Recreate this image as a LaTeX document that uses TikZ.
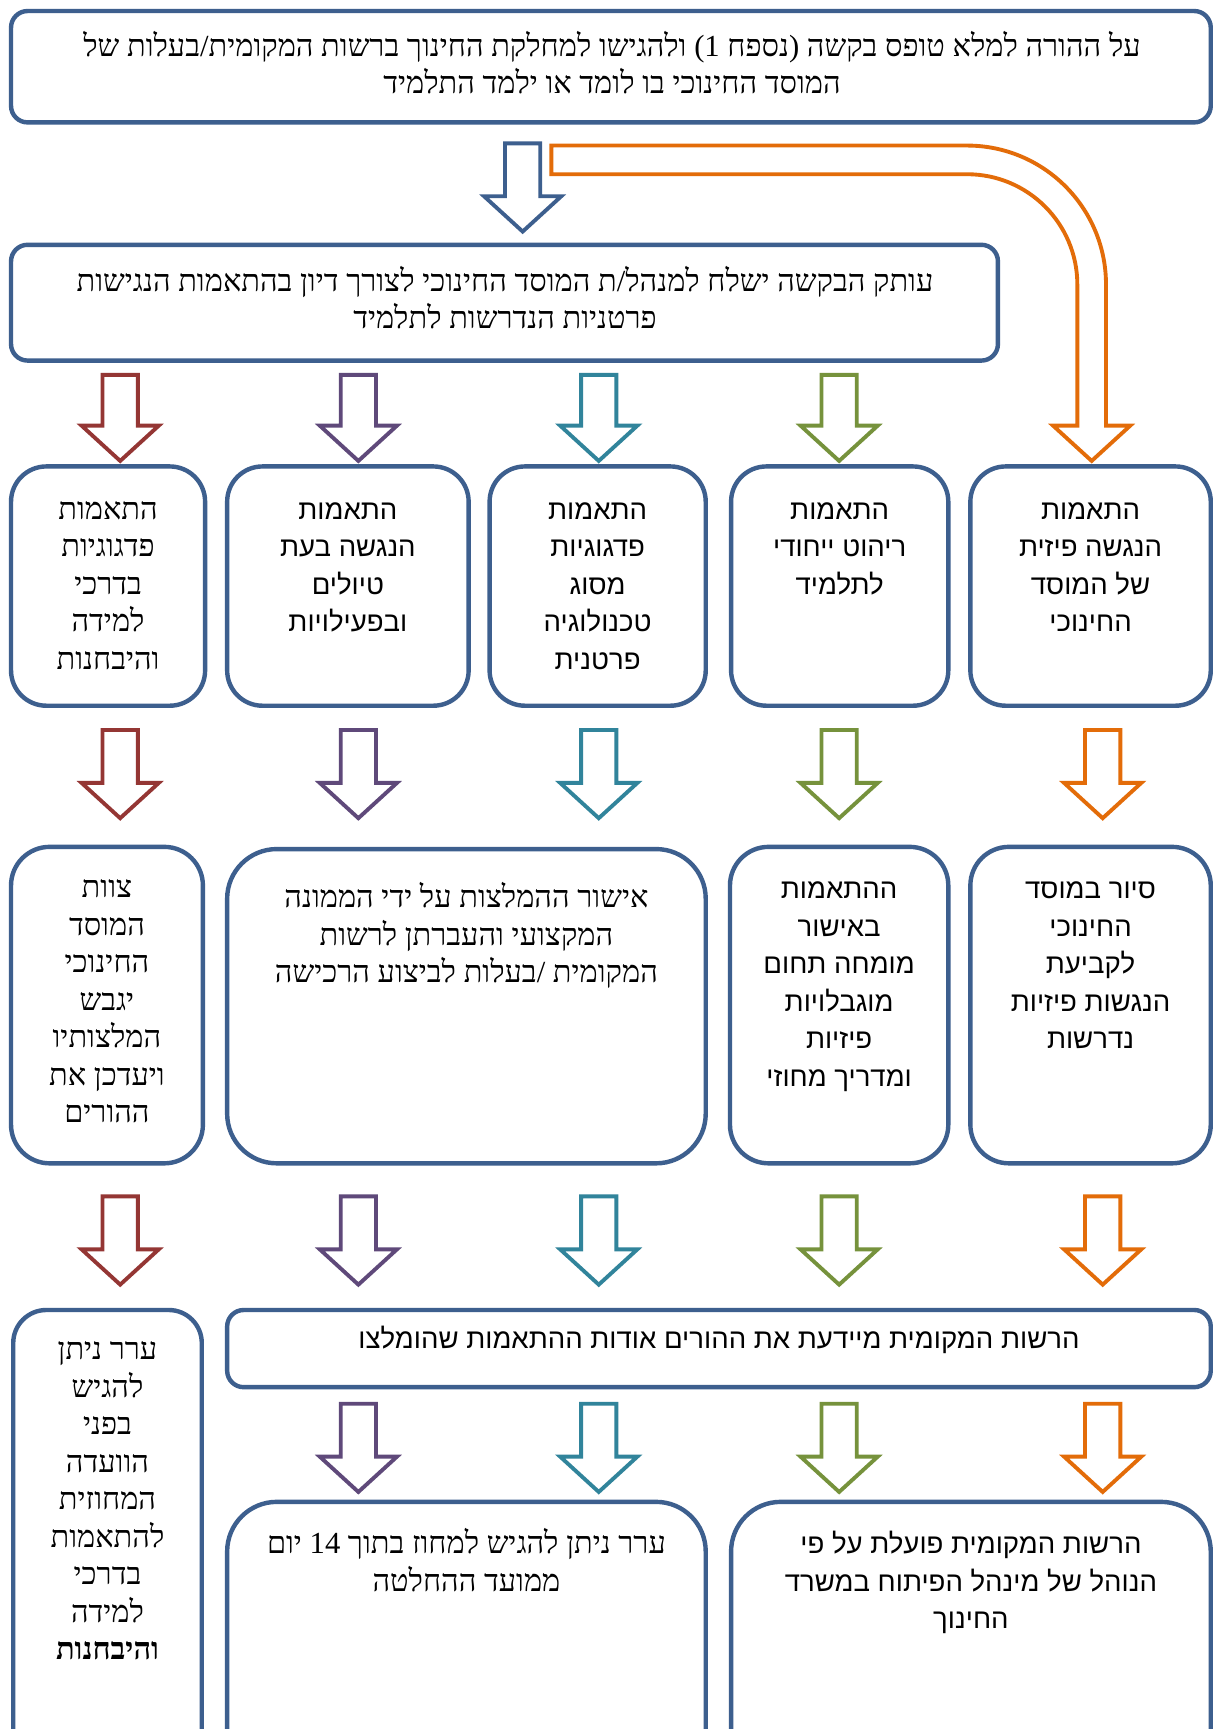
\documentclass[tikz,border=0pt]{standalone}
\usepackage{fontspec}
\setmainfont{Liberation Sans}
\newfontfamily\hsans[Script=Hebrew]{Liberation Sans}
\newfontfamily\hser[Script=Hebrew]{Liberation Serif}
\TeXXeTstate=1
\newcommand\hb[1]{\beginR\strut #1\endR}
\definecolor{boxblue}{HTML}{3D5F8E}
\definecolor{ared}{HTML}{943634}
\definecolor{apurple}{HTML}{5F497A}
\definecolor{ateal}{HTML}{31849B}
\definecolor{agreen}{HTML}{76923C}
\definecolor{aorange}{HTML}{E36C09}
\definecolor{ablue}{HTML}{3D5F8E}
\tikzset{
  box/.style={draw=boxblue, line width=4pt, rounded corners=#1, inner sep=0pt, fill=white},
  box/.default=15pt,
  txt/.style={anchor=north, inner sep=0pt, align=center, font=\hsans\fontsize{25}{34}\selectfont},
  stxt/.style={anchor=north, inner sep=0pt, align=center, font=\hser\fontsize{27.8}{34}\selectfont},
  blockarrow/.style={line width=3.5pt, fill=white, line join=miter}
}
% #1 colour, #2 x centre, #3 top, #4 tip
\newcommand\barrow[4]{%
  \draw[blockarrow, draw=#1] (#2-16,#3) -- (#2+16,#3) -- (#2+16,#4-32) -- (#2+35,#4-32)
    -- (#2,#4) -- (#2-35,#4-32) -- (#2-16,#4-32) -- cycle;}
\begin{document}
\begin{tikzpicture}[x=1pt,y=-1pt]
\useasboundingbox[fill=white] (0,0) rectangle (1100,1568);

% top boxes
\node[box=15pt, minimum width=1088pt, minimum height=101pt] (b1) at (554,60.5) {};
\node[stxt] (t1) at (555,27) {\hb{על ההורה למלא טופס בקשה (נספח 1) ולהגישו למחלקת החינוך ברשות המקומית\kern0pt/\kern0pt בעלות של}\\\hb{המוסד החינוכי בו לומד או ילמד התלמיד}};

\node[box=15pt, minimum width=895pt, minimum height=105pt] (b2) at (457.5,274.5) {};
\node[stxt] (t2) at (458,240) {\hb{עותק הבקשה ישלח למנהל\kern0pt/\kern0pt ת המוסד החינוכי לצורך דיון בהתאמות הנגישות}\\\hb{פרטניות הנדרשות לתלמיד}};

% blue arrow and orange bent arrow
\barrow{ablue}{474}{130}{210}
\draw[blockarrow, draw=aorange] (500,132) -- (877,132)
  .. controls (946.6,132) and (1003,188.4) .. (1003,258)
  -- (1003,386) -- (1025,386) -- (990,418) -- (955,386) -- (977,386) -- (977,258)
  .. controls (977,202.8) and (932.2,158) .. (877,158) -- (500,158) -- cycle;

% row 1 arrows
\barrow{ared}{109}{340}{418}
\barrow{apurple}{325}{340}{418}
\barrow{ateal}{543}{340}{418}
\barrow{agreen}{761}{340}{418}

% row 3 boxes
\node[box=32pt, minimum width=176pt, minimum height=217pt] (A) at (98,531.5) {};
\node[box=32pt, minimum width=219pt, minimum height=217pt] (B) at (315.5,531.5) {};
\node[box=32pt, minimum width=196pt, minimum height=217pt] (C) at (542,531.5) {};
\node[box=32pt, minimum width=197pt, minimum height=217pt] (D) at (761.5,531.5) {};
\node[box=32pt, minimum width=218pt, minimum height=217pt] (E) at (989,531.5) {};
\node[stxt] (At) at (98,447) {\hb{התאמות}\\\hb{פדגוגיות}\\\hb{בדרכי}\\\hb{למידה}\\\hb{והיבחנות}};
\node[txt] (Bt) at (315.5,447) {\hb{התאמות}\\\hb{הנגשה בעת}\\\hb{טיולים}\\\hb{ובפעילויות}};
\node[txt] (Ct) at (542,447) {\hb{התאמות}\\\hb{פדגוגיות}\\\hb{מסוג}\\\hb{טכנולוגיה}\\\hb{פרטנית}};
\node[txt] (Dt) at (761.5,447) {\hb{התאמות}\\\hb{ריהוט ייחודי}\\\hb{לתלמיד}};
\node[txt] (Et) at (989,447) {\hb{התאמות}\\\hb{הנגשה פיזית}\\\hb{של המוסד}\\\hb{החינוכי}};

% row 2 arrows
\barrow{ared}{109}{662}{742}
\barrow{apurple}{325}{662}{742}
\barrow{ateal}{543}{662}{742}
\barrow{agreen}{761}{662}{742}
\barrow{aorange}{1000}{662}{742}

% row 4 boxes
\node[box=35pt, minimum width=174pt, minimum height=287pt] (F) at (97,911.5) {};
\node[box=45pt, minimum width=434pt, minimum height=285pt] (G) at (423,912.5) {};
\node[box=35pt, minimum width=198pt, minimum height=287pt] (H) at (761,911.5) {};
\node[box=35pt, minimum width=218pt, minimum height=287pt] (I) at (989,911.5) {};
\node[stxt] (Ft) at (97,790) {\hb{צוות}\\\hb{המוסד}\\\hb{החינוכי}\\\hb{יגבש}\\\hb{המלצותיו}\\\hb{ויעדכן את}\\\hb{ההורים}};
\node[stxt] (Gt) at (423,799) {\hb{אישור ההמלצות על ידי הממונה}\\\hb{המקצועי והעברתן לרשות}\\\hb{המקומית /בעלות לביצוע הרכישה}};
\node[txt] (Ht) at (761,791) {\hb{ההתאמות}\\\hb{באישור}\\\hb{מומחה תחום}\\\hb{מוגבלויות}\\\hb{פיזיות}\\\hb{ומדריך מחוזי}};
\node[txt] (It) at (989,791) {\hb{סיור במוסד}\\\hb{החינוכי}\\\hb{לקביעת}\\\hb{הנגשות פיזיות}\\\hb{נדרשות}};

% row 3 arrows
\barrow{ared}{109}{1085}{1165}
\barrow{apurple}{325}{1085}{1165}
\barrow{ateal}{543}{1085}{1165}
\barrow{agreen}{761}{1085}{1165}
\barrow{aorange}{1000}{1085}{1165}

% row 5
\node[box=30pt, minimum width=171pt, minimum height=440pt] (J) at (97.5,1408) {};
\node[box=15pt, minimum width=892pt, minimum height=70pt] (K) at (652,1223) {};
\node[stxt] (Jt) at (97.5,1209) {\hb{ערר ניתן}\\\hb{להגיש}\\\hb{בפני}\\\hb{הוועדה}\\\hb{המחוזית}\\\hb{להתאמות}\\\hb{בדרכי}\\\hb{למידה}\\\bfseries\hb{והיבחנות}};
\node[txt] (Kt) at (652,1199) {\hb{הרשות המקומית מיידעת את ההורים אודות ההתאמות שהומלצו}};

% row 4 arrows
\barrow{apurple}{325}{1273}{1353}
\barrow{ateal}{543}{1273}{1353}
\barrow{agreen}{761}{1273}{1353}
\barrow{aorange}{1000}{1273}{1353}

% row 6
\node[box=45pt, minimum width=434pt, minimum height=300pt] (L) at (423,1512) {};
\node[box=45pt, minimum width=435pt, minimum height=300pt] (M) at (880.5,1512) {};
\node[stxt] (Lt) at (423,1385) {\hb{ערר ניתן להגיש למחוז בתוך 14 יום}\\\hb{ממועד ההחלטה}};
\node[txt] (Mt) at (880.5,1385) {\hb{הרשות המקומית פועלת על פי}\\\hb{הנוהל של מינהל הפיתוח במשרד}\\\hb{החינוך}};
\end{tikzpicture}
\end{document}
